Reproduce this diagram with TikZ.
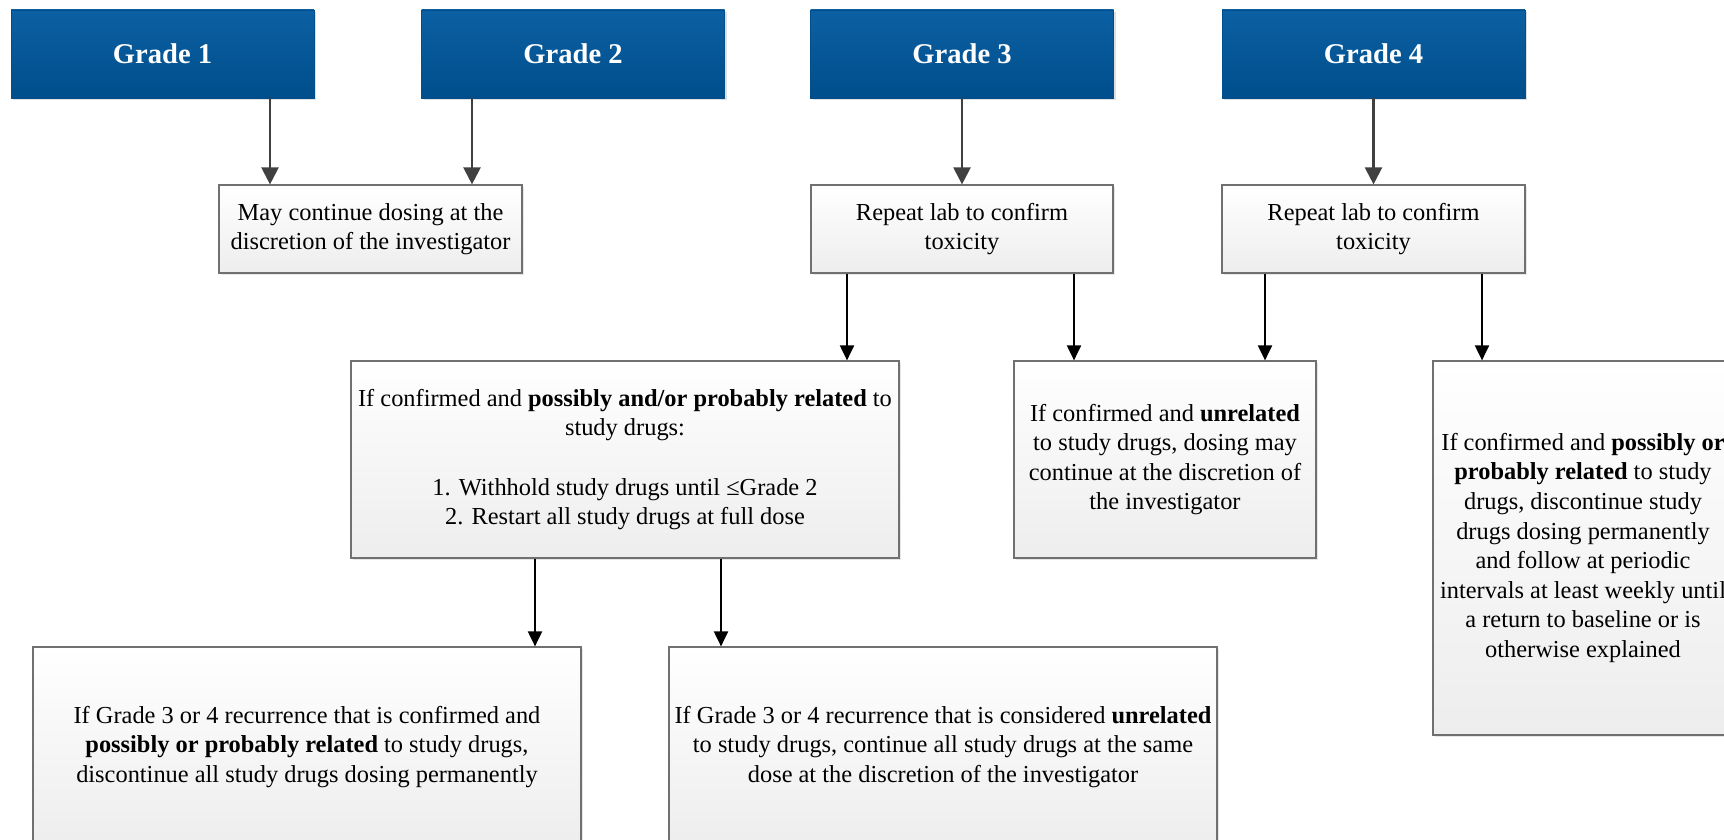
\documentclass[tikz,border=0pt]{standalone}
\usepackage{fontspec}
\setmainfont{Liberation Serif}
\usetikzlibrary{arrows.meta,shadows}
\definecolor{gradetop}{RGB}{12,96,162}
\definecolor{gradebot}{RGB}{0,78,140}
\definecolor{linkgray}{RGB}{64,64,64}
\definecolor{boxline}{RGB}{112,112,112}

\begin{document}
\begin{tikzpicture}[x=0.5pt, y=-0.5pt,
      grade/.style={rectangle, top color=gradetop, bottom color=gradebot, draw=gradebot,
        text=white, font=\fontsize{14.3}{17}\selectfont\bfseries, inner sep=0pt,
        minimum width=151.5pt, minimum height=44pt,
        drop shadow={shadow xshift=1pt, shadow yshift=-1pt, opacity=0.25}},
      note/.style={rectangle, top color=white, bottom color=black!7, draw=boxline,
        line width=0.6pt, font=\fontsize{12.2}{14.8}\selectfont, align=center, inner sep=0pt,
        drop shadow={shadow xshift=1pt, shadow yshift=-1pt, opacity=0.2}},
      link/.style={-{Triangle[width=8.5pt,length=8.5pt]}, line width=1.15pt, draw=linkgray},
      flow/.style={-{Triangle[width=7pt,length=7.5pt]}, line width=1pt, draw=black}]
    \useasboundingbox (0,0) rectangle (1724,840);
    \node[grade] (g1) at (162.5,54) {Grade 1};
    \node[grade] (g2) at (573,54) {Grade 2};
    \node[grade] (g3) at (962,54) {Grade 3};
    \node[grade] (g4) at (1373.5,54) {Grade 4};
    \node[note, minimum width=151.5pt, minimum height=44pt] (may) at (370.5,229)
      {May continue dosing at the\\discretion of the investigator};
    \node[note, minimum width=151pt, minimum height=44pt] (rep3) at (962,229)
      {Repeat lab to confirm\\toxicity};
    \node[note, minimum width=151.5pt, minimum height=44pt] (rep4) at (1373.5,229)
      {Repeat lab to confirm\\toxicity};
    \node[note, minimum width=274pt, minimum height=98.5pt] (conf) at (625,459.5)
      {If confirmed and \textbf{possibly and/or probably related} to\\study drugs:\\[14.8pt]
       1. Withhold study drugs until ≤Grade 2\\2. Restart all study drugs at full dose};
    \node[note, minimum width=151pt, minimum height=98.5pt] (unrel) at (1165,459.5)
      {If confirmed and \textbf{unrelated}\\to study drugs, dosing may\\continue at the discretion of\\the investigator};
    \node[note, minimum width=150pt, minimum height=187pt] (perm) at (1583,548)
      {If confirmed and \textbf{possibly or}\\\textbf{probably related} to study\\drugs, discontinue study\\drugs dosing permanently\\and follow at periodic\\intervals at least weekly until\\a return to baseline or is\\otherwise explained};
    \node[note, minimum width=274pt, minimum height=100pt] (rec) at (307,747)
      {If Grade 3 or 4 recurrence that is confirmed and\\\textbf{possibly or probably related} to study drugs,\\discontinue all study drugs dosing permanently};
    \node[note, minimum width=274pt, minimum height=100pt] (same) at (943,747)
      {If Grade 3 or 4 recurrence that is considered \textbf{unrelated}\\to study drugs, continue all study drugs at the same\\dose at the discretion of the investigator};
    \draw[link] (g1.south -| 270,0) -- (may.north -| 270,0);
    \draw[link] (g2.south -| 472,0) -- (may.north -| 472,0);
    \draw[link] (g3.south) -- (rep3.north);
    \draw[link] (g4.south) -- (rep4.north);
    \draw[flow] (rep3.south -| 847,0) -- (conf.north -| 847,0);
    \draw[flow] (rep3.south -| 1074,0) -- (unrel.north -| 1074,0);
    \draw[flow] (rep4.south -| 1265,0) -- (unrel.north -| 1265,0);
    \draw[flow] (rep4.south -| 1482,0) -- (perm.north -| 1482,0);
    \draw[flow] (conf.south -| 535,0) -- (rec.north -| 535,0);
    \draw[flow] (conf.south -| 721,0) -- (same.north -| 721,0);
\end{tikzpicture}
\end{document}
